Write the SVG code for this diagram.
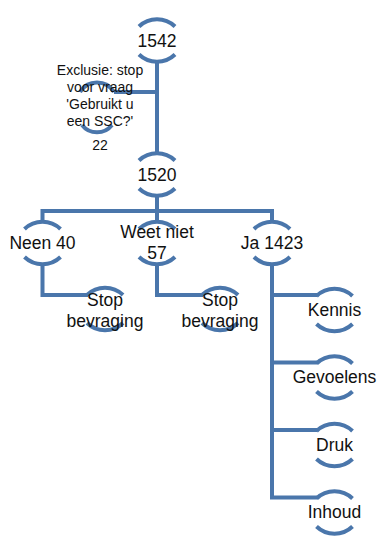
<svg xmlns="http://www.w3.org/2000/svg" width="377" height="536" viewBox="0 0 377 536">
<style>
.ln{fill:none;stroke:#4A76AB;stroke-width:4;stroke-linejoin:miter}
.arc{fill:none;stroke:#4A76AB;stroke-width:4}
.t{font-family:"Liberation Sans",Arial,sans-serif;font-size:17.5px;fill:#111;text-anchor:middle}
.s{font-family:"Liberation Sans",Arial,sans-serif;font-size:14px;fill:#111;text-anchor:middle}
</style>
<rect width="377" height="536" fill="#fff"/>
<g id="connectors">
<path class="ln" d="M157,62 V153"/>
<path class="ln" d="M157,92 H114"/>
<path class="ln" d="M157,195.5 V211"/>
<path class="ln" d="M42.5,222 V211 H272 V222"/>
<path class="ln" d="M157,211 V222"/>
<path class="ln" d="M42.5,264 V295 H88"/>
<path class="ln" d="M157,264 V295 H203"/>
<path class="ln" d="M272,264 V497.5 H317"/>
<path class="ln" d="M272,295 H317"/>
<path class="ln" d="M272,362.5 H317"/>
<path class="ln" d="M272,430 H317"/>
</g>
<g id="n1542">
<path class="arc" d="M139,26.5 A26 26 0 0 1 175,26.5"/>
<path class="arc" d="M139,54.5 A26 26 0 0 0 175,54.5"/>
<text class="t" x="157" y="46.5">1542</text>
</g>
<g id="nExclusie">
<path class="arc" d="M80,92 A20 20 0 0 1 114,92"/>
<path class="arc" d="M82,125 A19 19 0 0 0 112,125"/>
<text class="s" x="100" y="75">Exclusie: stop</text>
<text class="s" x="100" y="92">voor vraag</text>
<text class="s" x="100" y="109">'Gebruikt u</text>
<text class="s" x="100" y="126">een SSC?'</text>
<text class="s" x="100" y="150">22</text>
</g>
<g id="n1520">
<path class="arc" d="M139,160.5 A26 26 0 0 1 175,160.5"/>
<path class="arc" d="M139,188.5 A26 26 0 0 0 175,188.5"/>
<text class="t" x="157" y="180.5">1520</text>
</g>
<g id="nNeen">
<path class="arc" d="M24.5,229 A26 26 0 0 1 60.5,229"/>
<path class="arc" d="M24.5,257 A26 26 0 0 0 60.5,257"/>
<text class="t" x="42.5" y="248.5">Neen 40</text>
</g>
<g id="nWeetNiet">
<path class="arc" d="M139,229 A26 26 0 0 1 175,229"/>
<path class="arc" d="M139,257 A26 26 0 0 0 175,257"/>
<text class="t" x="157" y="237.5">Weet niet</text>
<text class="t" x="157" y="259">57</text>
</g>
<g id="nJa">
<path class="arc" d="M254,229 A26 26 0 0 1 290,229"/>
<path class="arc" d="M254,257 A26 26 0 0 0 290,257"/>
<text class="t" x="272" y="248.5">Ja 1423</text>
</g>
<g id="nStop1">
<path class="arc" d="M87,295 A26 26 0 0 1 123,295"/>
<path class="arc" d="M87,323 A26 26 0 0 0 123,323"/>
<text class="t" x="105" y="305.5">Stop</text>
<text class="t" x="105" y="326.5">bevraging</text>
</g>
<g id="nStop2">
<path class="arc" d="M202,295 A26 26 0 0 1 238,295"/>
<path class="arc" d="M202,323 A26 26 0 0 0 238,323"/>
<text class="t" x="220" y="305.5">Stop</text>
<text class="t" x="220" y="326.5">bevraging</text>
</g>
<g id="nKennis">
<path class="arc" d="M316.5,296 A26 26 0 0 1 352.5,296"/>
<path class="arc" d="M316.5,324 A26 26 0 0 0 352.5,324"/>
<text class="t" x="334.5" y="315.5">Kennis</text>
</g>
<g id="nGevoelens">
<path class="arc" d="M316.5,363.5 A26 26 0 0 1 352.5,363.5"/>
<path class="arc" d="M316.5,391.5 A26 26 0 0 0 352.5,391.5"/>
<text class="t" x="334.5" y="383">Gevoelens</text>
</g>
<g id="nDruk">
<path class="arc" d="M316.5,431 A26 26 0 0 1 352.5,431"/>
<path class="arc" d="M316.5,459 A26 26 0 0 0 352.5,459"/>
<text class="t" x="334.5" y="450.5">Druk</text>
</g>
<g id="nInhoud">
<path class="arc" d="M316.5,498.5 A26 26 0 0 1 352.5,498.5"/>
<path class="arc" d="M316.5,526.5 A26 26 0 0 0 352.5,526.5"/>
<text class="t" x="334.5" y="518">Inhoud</text>
</g>
</svg>
